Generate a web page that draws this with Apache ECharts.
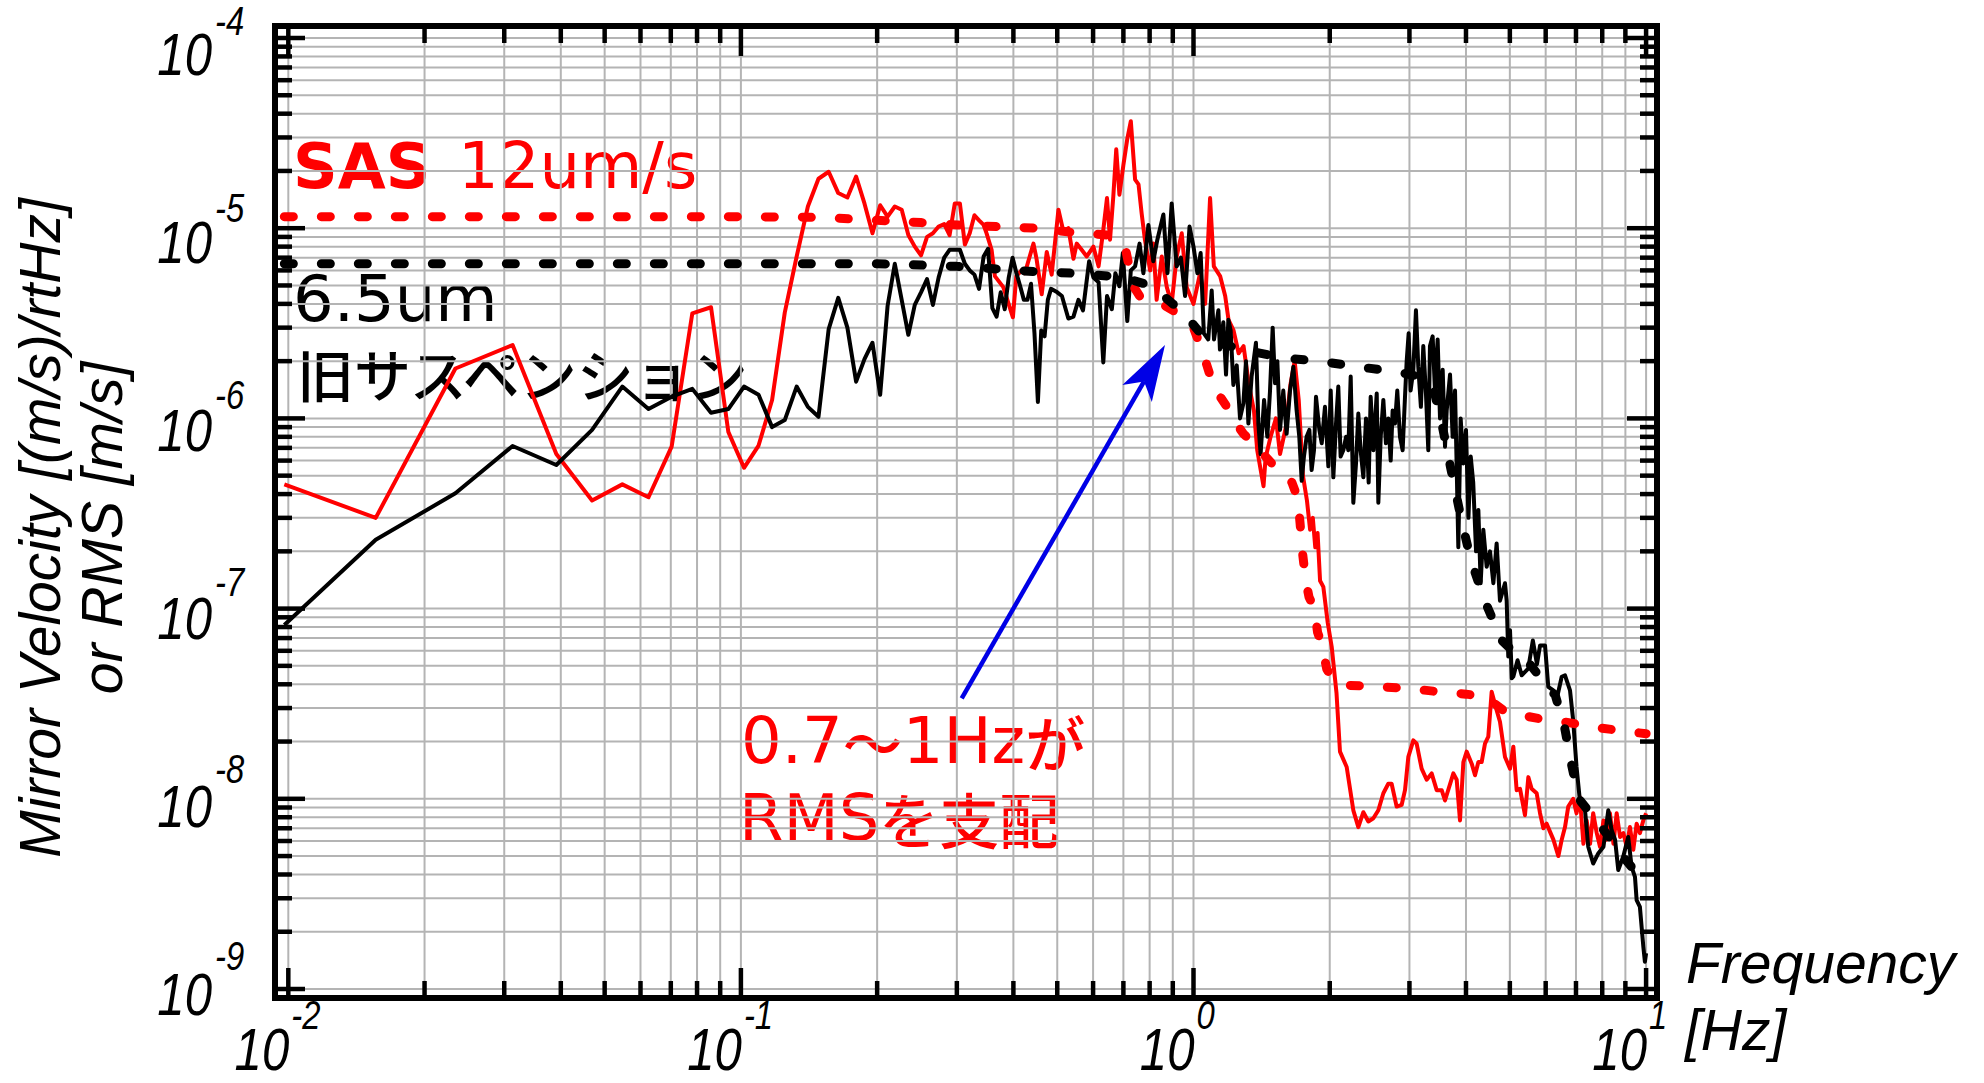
<!DOCTYPE html>
<html>
<head>
<meta charset="utf-8">
<title>Mirror velocity spectrum</title>
<script src="https://cdn.jsdelivr.net/npm/echarts@6/dist/echarts.min.js"></script>
<style>
  html, body { margin: 0; padding: 0; background: #ffffff; }
  #chart { width: 1984px; height: 1083px; }
</style>
</head>
<body>
<div id="chart"></div>
<script>
// ---- axis structure ----
const xDecades = [0.01, 0.1, 1, 10];
const xExponents = ['-2', '-1', '0', '1'];
const yDecades = [1e-9, 1e-8, 1e-7, 1e-6, 1e-5, 1e-4];
const yExponents = ['-9', '-8', '-7', '-6', '-5', '-4'];
const minorSteps = [2, 3, 4, 5, 6, 7, 8, 9];

// ---- SAS mirror velocity spectrum [Hz, (m/s)/rtHz] ----
const sasSpectrum = [
  [0.0098, 4.5e-7], [0.0156, 3.0e-7], [0.0234, 1.83e-6], [0.0313, 2.43e-6], [0.0391, 6.5e-7],
  [0.0469, 3.7e-7], [0.0547, 4.5e-7], [0.0625, 3.85e-7], [0.0703, 7.1e-7], [0.0781, 3.57e-6],
  [0.0859, 3.84e-6], [0.0938, 8.5e-7], [0.1016, 5.5e-7], [0.1094, 7.2e-7], [0.1172, 1.25e-6],
  [0.125, 3.6e-6], [0.1328, 7.1e-6], [0.1406, 1.3e-5], [0.1484, 1.82e-5], [0.1563, 1.98e-5],
  [0.1641, 1.53e-5], [0.1719, 1.45e-5], [0.1797, 1.87e-5], [0.1875, 1.35e-5], [0.1953, 9.4e-6],
  [0.2031, 1.32e-5], [0.2109, 1.15e-5], [0.2188, 1.3e-5], [0.2266, 1.25e-5], [0.2344, 9.2e-6],
  [0.2422, 8.0e-6], [0.25, 7.2e-6], [0.2578, 9.0e-6], [0.2656, 9.4e-6], [0.2734, 1.02e-5],
  [0.2813, 1.05e-5], [0.2891, 9.2e-6], [0.2969, 1.35e-5], [0.3047, 1.35e-5], [0.3125, 8.2e-6],
  [0.3203, 9.4e-6], [0.3281, 1.17e-5], [0.3359, 1.1e-5], [0.3438, 1.04e-5], [0.349, 9.4e-6],
  [0.358, 7.7e-6], [0.364, 5.6e-6], [0.380, 4.9e-6], [0.399, 3.4e-6], [0.406, 5.6e-6],
  [0.417, 6.0e-6], [0.424, 5.8e-6], [0.443, 8.3e-6], [0.450, 6.9e-6], [0.462, 4.5e-6],
  [0.474, 7.5e-6], [0.486, 5.7e-6], [0.503, 1.25e-5], [0.516, 9.6e-6], [0.529, 1.0e-5],
  [0.543, 6.9e-6], [0.552, 8.3e-6], [0.566, 7.7e-6], [0.581, 7.1e-6], [0.601, 8.0e-6],
  [0.617, 6.3e-6], [0.632, 9.8e-6], [0.644, 1.44e-5], [0.654, 8.7e-6], [0.665, 1.47e-5],
  [0.675, 2.6e-5], [0.686, 1.5e-5], [0.700, 2.15e-5], [0.714, 2.95e-5], [0.727, 3.65e-5],
  [0.743, 1.8e-5], [0.756, 1.7e-5], [0.768, 1.2e-5], [0.781, 8.7e-6], [0.802, 6.0e-6],
  [0.815, 8.3e-6], [0.829, 4.2e-6], [0.851, 7.1e-6], [0.873, 4.9e-6], [0.895, 4.0e-6],
  [0.918, 7.1e-6], [0.942, 9.4e-6], [0.966, 4.9e-6], [1.0, 4.0e-6], [1.034, 5.8e-6],
  [1.061, 4.0e-6], [1.088, 1.44e-5], [1.109, 6.3e-6], [1.145, 5.6e-6], [1.175, 4.4e-6],
  [1.195, 3.3e-6], [1.226, 2.9e-6], [1.258, 2.2e-6], [1.29, 2.4e-6], [1.326, 1.5e-6],
  [1.36, 1.1e-6], [1.383, 6.8e-7], [1.428, 4.4e-7], [1.443, 6.2e-7], [1.48, 8.0e-7],
  [1.521, 1.0e-6], [1.553, 6.5e-7], [1.60, 9.0e-7], [1.637, 1.5e-6], [1.673, 2.0e-6],
  [1.708, 1.25e-6], [1.745, 5.0e-7], [1.781, 3.7e-7], [1.81, 2.6e-7], [1.835, 3.0e-7],
  [1.858, 2.1e-7], [1.88, 2.5e-7], [1.904, 1.4e-7], [1.936, 1.3e-7], [1.98, 8.4e-8],
  [2.02, 6.3e-8], [2.07, 3.6e-8], [2.107, 1.77e-8], [2.18, 1.47e-8], [2.255, 8.7e-9],
  [2.313, 7.1e-9], [2.373, 8.5e-9], [2.434, 7.6e-9], [2.497, 7.9e-9], [2.561, 8.7e-9],
  [2.627, 1.07e-8], [2.694, 1.2e-8], [2.74, 1.2e-8], [2.811, 9.1e-9], [2.884, 9.3e-9],
  [2.933, 1.11e-8], [2.983, 1.66e-8], [3.06, 2.03e-8], [3.112, 1.95e-8], [3.192, 1.44e-8],
  [3.275, 1.26e-8], [3.359, 1.36e-8], [3.446, 1.11e-8], [3.535, 1.11e-8], [3.595, 9.8e-9],
  [3.751, 1.36e-8], [3.815, 1.26e-8], [3.88, 7.7e-9], [3.947, 1.56e-8], [4.014, 1.77e-8],
  [4.118, 1.53e-8], [4.188, 1.33e-8], [4.26, 1.56e-8], [4.332, 1.56e-8], [4.406, 1.95e-8],
  [4.481, 2.12e-8], [4.558, 3.65e-8], [4.675, 2.92e-8], [4.755, 2.54e-8], [4.878, 1.66e-8],
  [5.004, 1.44e-8], [5.09, 1.88e-8], [5.176, 1.11e-8], [5.265, 1.13e-8], [5.4, 8.2e-9],
  [5.493, 1.3e-8], [5.587, 1.13e-8], [5.731, 1.07e-8], [5.83, 8.4e-9], [5.93, 7.0e-9],
  [6.03, 7.4e-9], [6.135, 6.7e-9], [6.24, 6.1e-9], [6.40, 5.0e-9], [6.51, 6.1e-9],
  [6.62, 7.1e-9], [6.73, 9.1e-9], [6.90, 1.0e-8], [7.02, 8.4e-9], [7.14, 1.02e-8],
  [7.27, 5.8e-9], [7.39, 7.7e-9], [7.52, 5.8e-9], [7.64, 8.4e-9], [7.78, 6.6e-9],
  [7.91, 5.6e-9], [8.05, 7.7e-9], [8.18, 6.1e-9], [8.32, 8.4e-9], [8.47, 5.8e-9],
  [8.61, 8.4e-9], [8.76, 6.3e-9], [8.91, 6.6e-9], [9.06, 5.6e-9], [9.21, 7.1e-9],
  [9.37, 5.4e-9], [9.53, 7.4e-9], [9.69, 6.6e-9], [9.86, 7.7e-9], [10.0, 8.4e-9]
];

// ---- old suspension mirror velocity spectrum [Hz, (m/s)/rtHz] ----
const oldSpectrum = [
  [0.0098, 8.2e-8], [0.0156, 2.3e-7], [0.0234, 4.04e-7], [0.0313, 7.16e-7], [0.0391, 5.69e-7],
  [0.0469, 8.7e-7], [0.0547, 1.47e-6], [0.0625, 1.12e-6], [0.0703, 1.3e-6], [0.0781, 1.43e-6],
  [0.0859, 1.07e-6], [0.0938, 1.12e-6], [0.1016, 1.47e-6], [0.1094, 1.33e-6], [0.1172, 9.0e-7],
  [0.125, 9.8e-7], [0.1328, 1.47e-6], [0.1406, 1.15e-6], [0.1484, 1.02e-6], [0.1563, 2.95e-6],
  [0.1641, 4.3e-6], [0.1719, 3.0e-6], [0.1797, 1.56e-6], [0.1875, 2.05e-6], [0.1953, 2.5e-6],
  [0.2031, 1.33e-6], [0.2109, 3.9e-6], [0.2188, 6.5e-6], [0.2266, 4.2e-6], [0.2344, 2.75e-6],
  [0.2422, 3.95e-6], [0.25, 4.6e-6], [0.2578, 5.4e-6], [0.2656, 3.95e-6], [0.2734, 5.5e-6],
  [0.2813, 7.0e-6], [0.2891, 7.7e-6], [0.2969, 7.7e-6], [0.3047, 7.7e-6], [0.3125, 6.5e-6],
  [0.3203, 6.0e-6], [0.3281, 5.7e-6], [0.3359, 4.8e-6], [0.3438, 7.1e-6], [0.3516, 7.8e-6],
  [0.3594, 3.8e-6], [0.3672, 3.43e-6], [0.375, 4.6e-6], [0.3828, 3.75e-6], [0.3906, 5.5e-6],
  [0.3984, 7.0e-6], [0.4063, 5.8e-6], [0.4141, 4.95e-6], [0.4219, 4.2e-6], [0.4297, 4.2e-6],
  [0.4375, 5.1e-6], [0.4453, 2.8e-6], [0.4531, 1.22e-6], [0.4609, 2.9e-6], [0.4688, 2.7e-6],
  [0.4766, 4.2e-6], [0.4844, 4.8e-6], [0.4922, 4.7e-6], [0.5, 4.6e-6], [0.512, 4.4e-6],
  [0.529, 3.35e-6], [0.543, 3.43e-6], [0.557, 4.2e-6], [0.570, 3.7e-6], [0.588, 6.7e-6],
  [0.601, 5.5e-6], [0.617, 5.2e-6], [0.632, 1.97e-6], [0.644, 4.4e-6], [0.660, 3.75e-6],
  [0.672, 5.8e-6], [0.686, 4.95e-6], [0.698, 7.4e-6], [0.714, 3.25e-6], [0.727, 6.0e-6],
  [0.743, 6.3e-6], [0.760, 8.3e-6], [0.775, 5.8e-6], [0.795, 1.04e-5], [0.815, 6.7e-6],
  [0.832, 8.7e-6], [0.858, 1.18e-5], [0.876, 5.8e-6], [0.895, 1.35e-5], [0.918, 6.3e-6],
  [0.938, 7.0e-6], [0.958, 4.4e-6], [0.980, 1.02e-5], [1.0, 8.0e-6], [1.02, 5.8e-6],
  [1.037, 7.4e-6], [1.054, 2.8e-6], [1.078, 2.6e-6], [1.097, 4.7e-6], [1.110, 2.6e-6],
  [1.135, 3.7e-6], [1.144, 2.3e-6], [1.164, 3.2e-6], [1.180, 1.7e-6], [1.194, 3.3e-6],
  [1.208, 2.9e-6], [1.225, 1.5e-6], [1.246, 1.9e-6], [1.267, 1.0e-6], [1.289, 1.2e-6],
  [1.306, 2.0e-6], [1.322, 9.4e-7], [1.344, 1.66e-6], [1.374, 2.5e-6], [1.391, 9.4e-7],
  [1.407, 6.5e-7], [1.432, 1.25e-6], [1.456, 8.0e-7], [1.476, 1.4e-6], [1.496, 3.0e-6],
  [1.514, 1.53e-6], [1.532, 2.0e-6], [1.553, 8.7e-7], [1.579, 1.4e-6], [1.606, 8.3e-7],
  [1.634, 1.4e-6], [1.662, 1.87e-6], [1.690, 1.1e-6], [1.713, 8.0e-7], [1.734, 4.7e-7],
  [1.754, 6.3e-7], [1.778, 8.0e-7], [1.803, 8.7e-7], [1.824, 5.35e-7], [1.846, 6.8e-7],
  [1.865, 1.3e-6], [1.897, 8.7e-7], [1.920, 7.4e-7], [1.952, 1.15e-6], [1.986, 5.6e-7],
  [2.01, 1.4e-6], [2.037, 4.9e-7], [2.065, 9.4e-7], [2.089, 1.47e-6], [2.114, 6.3e-7],
  [2.143, 6.8e-7], [2.173, 8.0e-7], [2.198, 6.8e-7], [2.225, 1.66e-6], [2.255, 3.6e-7],
  [2.286, 5.8e-7], [2.313, 1.06e-6], [2.34, 6.8e-7], [2.373, 4.9e-7], [2.405, 1.0e-6],
  [2.438, 4.6e-7], [2.463, 1.3e-6], [2.497, 6.8e-7], [2.54, 1.35e-6], [2.561, 3.6e-7],
  [2.592, 8.0e-7], [2.627, 1.25e-6], [2.662, 7.4e-7], [2.694, 1.0e-6], [2.727, 6.0e-7],
  [2.754, 1.1e-6], [2.787, 9.4e-7], [2.82, 1.4e-6], [2.859, 8.0e-7], [2.898, 6.8e-7],
  [2.933, 1.3e-6], [2.958, 2.0e-6], [2.988, 2.8e-6], [3.018, 1.4e-6], [3.06, 1.8e-6],
  [3.101, 3.7e-6], [3.138, 1.87e-6], [3.18, 1.15e-6], [3.219, 2.4e-6], [3.263, 1.35e-6],
  [3.302, 6.8e-7], [3.33, 2.4e-6], [3.376, 2.7e-6], [3.416, 1.4e-6], [3.463, 2.6e-6],
  [3.505, 1.0e-6], [3.553, 1.8e-6], [3.595, 7.1e-7], [3.626, 1.1e-6], [3.688, 1.7e-6],
  [3.738, 8.0e-7], [3.783, 1.4e-6], [3.815, 5.6e-7], [3.847, 2.1e-7], [3.893, 1.0e-6],
  [3.947, 5.8e-7], [4.0, 8.7e-7], [4.05, 3.0e-7], [4.098, 6.3e-7], [4.15, 4.6e-7],
  [4.21, 2.0e-7], [4.26, 3.3e-7], [4.31, 1.36e-7], [4.369, 2.6e-7], [4.444, 1.66e-7],
  [4.52, 2.0e-7], [4.598, 1.36e-7], [4.675, 2.2e-7], [4.755, 1.1e-7], [4.878, 1.36e-7],
  [4.92, 1.1e-7], [4.96, 5.6e-8], [5.004, 7.7e-8], [5.05, 4.3e-8], [5.09, 4.4e-8],
  [5.2, 5.35e-8], [5.31, 4.46e-8], [5.49, 4.84e-8], [5.62, 6.8e-8], [5.74, 5.1e-8],
  [5.83, 6.4e-8], [5.98, 6.4e-8], [6.08, 3.88e-8], [6.24, 3.72e-8], [6.35, 3.37e-8],
  [6.51, 4.38e-8], [6.62, 4.46e-8], [6.79, 3.72e-8], [6.90, 2.59e-8], [7.02, 1.47e-8],
  [7.14, 9.8e-9], [7.33, 8.7e-9], [7.45, 5.6e-9], [7.64, 4.57e-9], [7.84, 5.16e-9],
  [8.05, 5.6e-9], [8.25, 8.7e-9], [8.39, 6.85e-9], [8.54, 6.1e-9], [8.68, 4.22e-9],
  [8.91, 5.0e-9], [9.13, 6.3e-9], [9.29, 4.39e-9], [9.45, 3.89e-9], [9.53, 2.93e-9],
  [9.69, 2.7e-9], [9.86, 1.67e-9], [9.94, 1.39e-9], [10.0, 1.54e-9]
];

// ---- cumulative RMS [Hz, m/s] ----
const sasRms = [
  [0.0098, 1.15e-5], [0.1, 1.15e-5], [0.15, 1.14e-5], [0.2, 1.1e-5], [0.25, 1.07e-5],
  [0.3, 1.04e-5], [0.37, 1.02e-5], [0.45, 1.0e-5], [0.54, 9.5e-6], [0.65, 9.2e-6],
  [0.68, 8.8e-6], [0.71, 7.5e-6], [0.735, 5.0e-6], [0.76, 4.4e-6], [0.8, 4.2e-6],
  [0.85, 4.0e-6], [0.9, 3.7e-6], [0.96, 3.3e-6], [1.0, 3.0e-6], [1.05, 2.2e-6],
  [1.1, 1.55e-6], [1.145, 1.3e-6], [1.2, 1.1e-6], [1.23, 9.7e-7], [1.29, 8.3e-7],
  [1.4, 6.8e-7], [1.49, 5.8e-7], [1.6, 5.0e-7], [1.65, 4.6e-7], [1.70, 3.8e-7],
  [1.72, 2.8e-7], [1.74, 2.0e-7], [1.77, 1.4e-7], [1.80, 1.15e-7], [1.85, 1.0e-7],
  [1.88, 7.5e-8], [1.92, 6.5e-8], [1.97, 4.8e-8], [2.04, 4.2e-8], [2.2, 3.95e-8],
  [2.5, 3.9e-8], [3.0, 3.8e-8], [3.5, 3.65e-8], [4.0, 3.55e-8], [4.4, 3.45e-8],
  [4.6, 3.2e-8], [4.9, 2.85e-8], [5.3, 2.75e-8], [6.0, 2.6e-8], [6.5, 2.55e-8],
  [7.2, 2.45e-8], [8.0, 2.35e-8], [9.2, 2.25e-8], [10.0, 2.2e-8]
];
const oldRms = [
  [0.0098, 6.5e-6], [0.2, 6.5e-6], [0.25, 6.4e-6], [0.3, 6.3e-6], [0.37, 6.1e-6],
  [0.45, 5.9e-6], [0.54, 5.8e-6], [0.65, 5.6e-6], [0.72, 5.4e-6], [0.78, 5.1e-6],
  [0.84, 4.6e-6], [0.9, 4.0e-6], [0.95, 3.6e-6], [1.0, 3.1e-6], [1.05, 2.7e-6],
  [1.1, 2.55e-6], [1.28, 2.3e-6], [1.6, 2.07e-6], [1.9, 2.0e-6], [2.3, 1.87e-6],
  [2.8, 1.76e-6], [3.2, 1.65e-6], [3.4, 1.4e-6], [3.55, 9.0e-7], [3.7, 5.5e-7],
  [3.9, 3.0e-7], [4.1, 1.8e-7], [4.4, 1.1e-7], [4.8, 6.8e-8], [5.0, 6.2e-8],
  [5.5, 5.2e-8], [6.0, 4.0e-8], [6.3, 3.5e-8], [6.6, 2.4e-8], [6.85, 1.5e-8],
  [7.1, 1.0e-8], [7.5, 8.5e-9], [8.2, 6.5e-9], [9.0, 4.8e-9], [9.5, 4.1e-9],
  [10.0, 3.7e-9]
];

// annotation arrow: [tail Hz, tail m/s, head Hz, head m/s]
const rmsArrow = [[0.3075, 3.37e-8, 0.865, 2.43e-6]];

// ---- styling ----
const RED = '#ff0000';
const BLUE = '#0000e6';
const GRID_COLOR = '#b4b4b4';
const LABEL_FONT = 'italic 60px "Liberation Sans", Arial, sans-serif';
const EXP_FONT = 'italic 40px "Liberation Sans", Arial, sans-serif';
const TITLE_FONT = 'italic 57px "Liberation Sans", Arial, sans-serif';
const AXIS_NAME_FONT = 'italic 57px "Liberation Sans", Arial, sans-serif';
const NOTE_LATIN = '64px "DejaVu Sans", sans-serif';
const NOTE_CJK = '500 60px "Noto Sans CJK JP", sans-serif';
const NARROW = 0.82;          // condensed look of the tick labels
const MID = 0.3465;           // baseline -> em-middle offset (per px of font size)
const MID_DV = 0.346;         // same for DejaVu Sans
const MID_CJK = 0.38;         // same for Noto Sans CJK

// axis range: a little beyond the outer decades, as in the framed plot
const X_MIN = Math.pow(10, -2.0294), X_MAX = Math.pow(10, 1.0241);
const Y_MIN = Math.pow(10, -9.0473), Y_MAX = Math.pow(10, -3.9369);

// grid lines / ticks: [x, y, axis(0=x,1=y,2=frame), major, decadeIndex]
const axisItems = [];
xDecades.forEach((d, i) => {
  axisItems.push([d, Y_MIN, 0, 1, i]);
  if (i < xDecades.length - 1) minorSteps.forEach(s => axisItems.push([d * s, Y_MIN, 0, 0, -1]));
});
yDecades.forEach((d, i) => {
  axisItems.push([X_MIN, d, 1, 1, i]);
  if (i < yDecades.length - 1) minorSteps.forEach(s => axisItems.push([X_MIN, d * s, 1, 0, -1]));
});
const gridItems = axisItems.slice();
axisItems.push([X_MIN, Y_MIN, 2, 0, -1]);

function txt(x, y, text, font, align, scaleX, fill, rotation) {
  return {
    type: 'text', x: x, y: y, scaleX: scaleX || 1, rotation: rotation || 0, silent: true,
    style: { text: text, font: font, fill: fill || '#000', align: align, textAlign: align,
             verticalAlign: 'middle', textVerticalAlign: 'middle' }
  };
}

function richTxt(x, y, text, fill) {
  return {
    type: 'text', x: x, y: y, silent: true,
    style: { text: text, align: 'left', textAlign: 'left',
             verticalAlign: 'middle', textVerticalAlign: 'middle', fill: fill,
             rich: { l: { font: NOTE_LATIN, fill: fill }, j: { font: NOTE_CJK, fill: fill } } }
  };
}

function renderGrid(params, api) {
  const cs = params.coordSys;
  const p = api.coord([api.value(0), api.value(1)]);
  const shape = api.value(2) === 0
    ? { x1: p[0], y1: cs.y, x2: p[0], y2: cs.y + cs.height }
    : { x1: cs.x, y1: p[1], x2: cs.x + cs.width, y2: p[1] };
  return { type: 'line', shape: shape, style: { stroke: GRID_COLOR, lineWidth: 2 } };
}

function renderTicks(params, api) {
  const cs = params.coordSys;
  const axis = api.value(2);
  if (axis === 2) {
    return { type: 'rect', shape: { x: cs.x, y: cs.y, width: cs.width, height: cs.height },
             style: { fill: 'none', stroke: '#000', lineWidth: 6, lineJoin: 'miter' } };
  }
  const major = api.value(3) === 1;
  const idx = api.value(4);
  const len = major ? 30 : 17;
  const p = api.coord([api.value(0), api.value(1)]);
  const st = { stroke: '#000', lineWidth: 4.5 };
  const right = cs.x + cs.width, bottom = cs.y + cs.height;
  const children = [];
  if (axis === 0) {
    children.push({ type: 'line', shape: { x1: p[0], y1: bottom, x2: p[0], y2: bottom - len }, style: st });
    children.push({ type: 'line', shape: { x1: p[0], y1: cs.y, x2: p[0], y2: cs.y + len }, style: st });
    if (major) {
      children.push(txt(p[0] + 1, bottom + 72 - MID * 60, '10', LABEL_FONT, 'right', NARROW));
      children.push(txt(p[0] + 3, bottom + 31 - MID * 40, xExponents[idx], EXP_FONT, 'left', NARROW));
    }
  } else {
    children.push({ type: 'line', shape: { x1: cs.x, y1: p[1], x2: cs.x + len, y2: p[1] }, style: st });
    children.push({ type: 'line', shape: { x1: right, y1: p[1], x2: right - len, y2: p[1] }, style: st });
    if (major) {
      const k = yDecades.length - 1 - idx;        // 0 for the top decade
      const baseY = p[1] + 37 - 2.1 * k;
      const expY = p[1] - 3 - 3.2 * k;
      children.push(txt(cs.x - 63, baseY - MID * 60, '10', LABEL_FONT, 'right', NARROW));
      children.push(txt(cs.x - 60, expY - MID * 40, yExponents[idx], EXP_FONT, 'left', NARROW));
    }
  }
  return { type: 'group', children: children };
}

function renderArrow(params, api) {
  const a = api.coord([api.value(0), api.value(1)]);
  const b = api.coord([api.value(2), api.value(3)]);
  const dx = b[0] - a[0], dy = b[1] - a[1];
  const L = Math.sqrt(dx * dx + dy * dy);
  const ux = dx / L, uy = dy / L, nx = -uy, ny = ux;
  const headLen = 56, half = 17, notch = 42;
  const back = [b[0] - ux * headLen, b[1] - uy * headLen];
  const mid = [b[0] - ux * notch, b[1] - uy * notch];
  return {
    type: 'group',
    children: [
      { type: 'line', shape: { x1: a[0], y1: a[1], x2: mid[0], y2: mid[1] },
        style: { stroke: BLUE, lineWidth: 4.5 } },
      { type: 'polygon', shape: { points: [
          [b[0], b[1]],
          [back[0] + nx * half, back[1] + ny * half],
          mid,
          [back[0] - nx * half, back[1] - ny * half]
        ] }, style: { fill: BLUE } }
    ]
  };
}

const chart = echarts.init(document.getElementById('chart'), null, { renderer: 'svg', width: 1984, height: 1083 });

const hiddenAxis = {
  type: 'log', logBase: 10,
  axisLine: { show: false }, axisTick: { show: false }, axisLabel: { show: false },
  splitLine: { show: false }, minorTick: { show: false }, minorSplitLine: { show: false }
};

const UP = Math.PI / 2;   // vertical text, reading bottom to top

chart.setOption({
  animation: false,
  backgroundColor: '#ffffff',
  grid: { left: 275, top: 26, width: 1382, height: 972, show: false },
  xAxis: Object.assign({ min: X_MIN, max: X_MAX }, hiddenAxis),
  yAxis: Object.assign({ min: Y_MIN, max: Y_MAX }, hiddenAxis),
  series: [
    { type: 'custom', name: 'grid', silent: true, z: 1, data: gridItems, renderItem: renderGrid },
    { type: 'line', name: 'SAS', data: sasSpectrum, z: 3, silent: true, symbol: 'none', showSymbol: false,
      lineStyle: { color: RED, width: 4, join: 'round' } },
    { type: 'line', name: '旧サスペンション', data: oldSpectrum, z: 4, silent: true, symbol: 'none', showSymbol: false,
      lineStyle: { color: '#000', width: 4, join: 'round' } },
    { type: 'line', name: 'SAS RMS', data: sasRms, z: 5, silent: true, symbol: 'none', showSymbol: false,
      lineStyle: { color: RED, width: 9, type: [9, 28], cap: 'round', join: 'round' } },
    { type: 'line', name: '旧サスペンション RMS', data: oldRms, z: 6, silent: true, symbol: 'none', showSymbol: false,
      lineStyle: { color: '#000', width: 9, type: [9, 28], cap: 'round', join: 'round' } },
    { type: 'custom', name: 'arrow', silent: true, z: 7, data: rmsArrow, renderItem: renderArrow },
    { type: 'custom', name: 'axes', silent: true, z: 8, data: axisItems, renderItem: renderTicks }
  ],
  graphic: [
    txt(60 - MID * 57, 528, 'Mirror Velocity [(m/s)/rtHz]', TITLE_FONT, 'center', 1, '#000', UP),
    txt(122 - MID * 57, 528, 'or RMS [m/s]', TITLE_FONT, 'center', 1, '#000', UP),
    txt(1686, 983 - MID * 57, 'Frequency', AXIS_NAME_FONT, 'left'),
    txt(1685, 1050 - MID * 57, '[Hz]', AXIS_NAME_FONT, 'left'),
    txt(293, 188 - MID_DV * 62, 'SAS', 'bold 62px "DejaVu Sans", sans-serif', 'left', 1, RED),
    txt(458, 188 - MID_DV * 64, '12um/s', NOTE_LATIN, 'left', 1, RED),
    txt(293, 321 - MID_DV * 64, '6.5um', NOTE_LATIN, 'left'),
    txt(297, 394 - MID_CJK * 57, '旧サスペンション', '500 57px "Noto Sans CJK JP", sans-serif', 'left'),
    richTxt(741, 763 - MID_DV * 64, '{l|0.7}{j|〜}{l|1Hz}{j|が}', RED),
    richTxt(739, 840 - MID_DV * 64, '{l|RMS}{j|を支配}', RED)
  ]
});
</script>
</body>
</html>
